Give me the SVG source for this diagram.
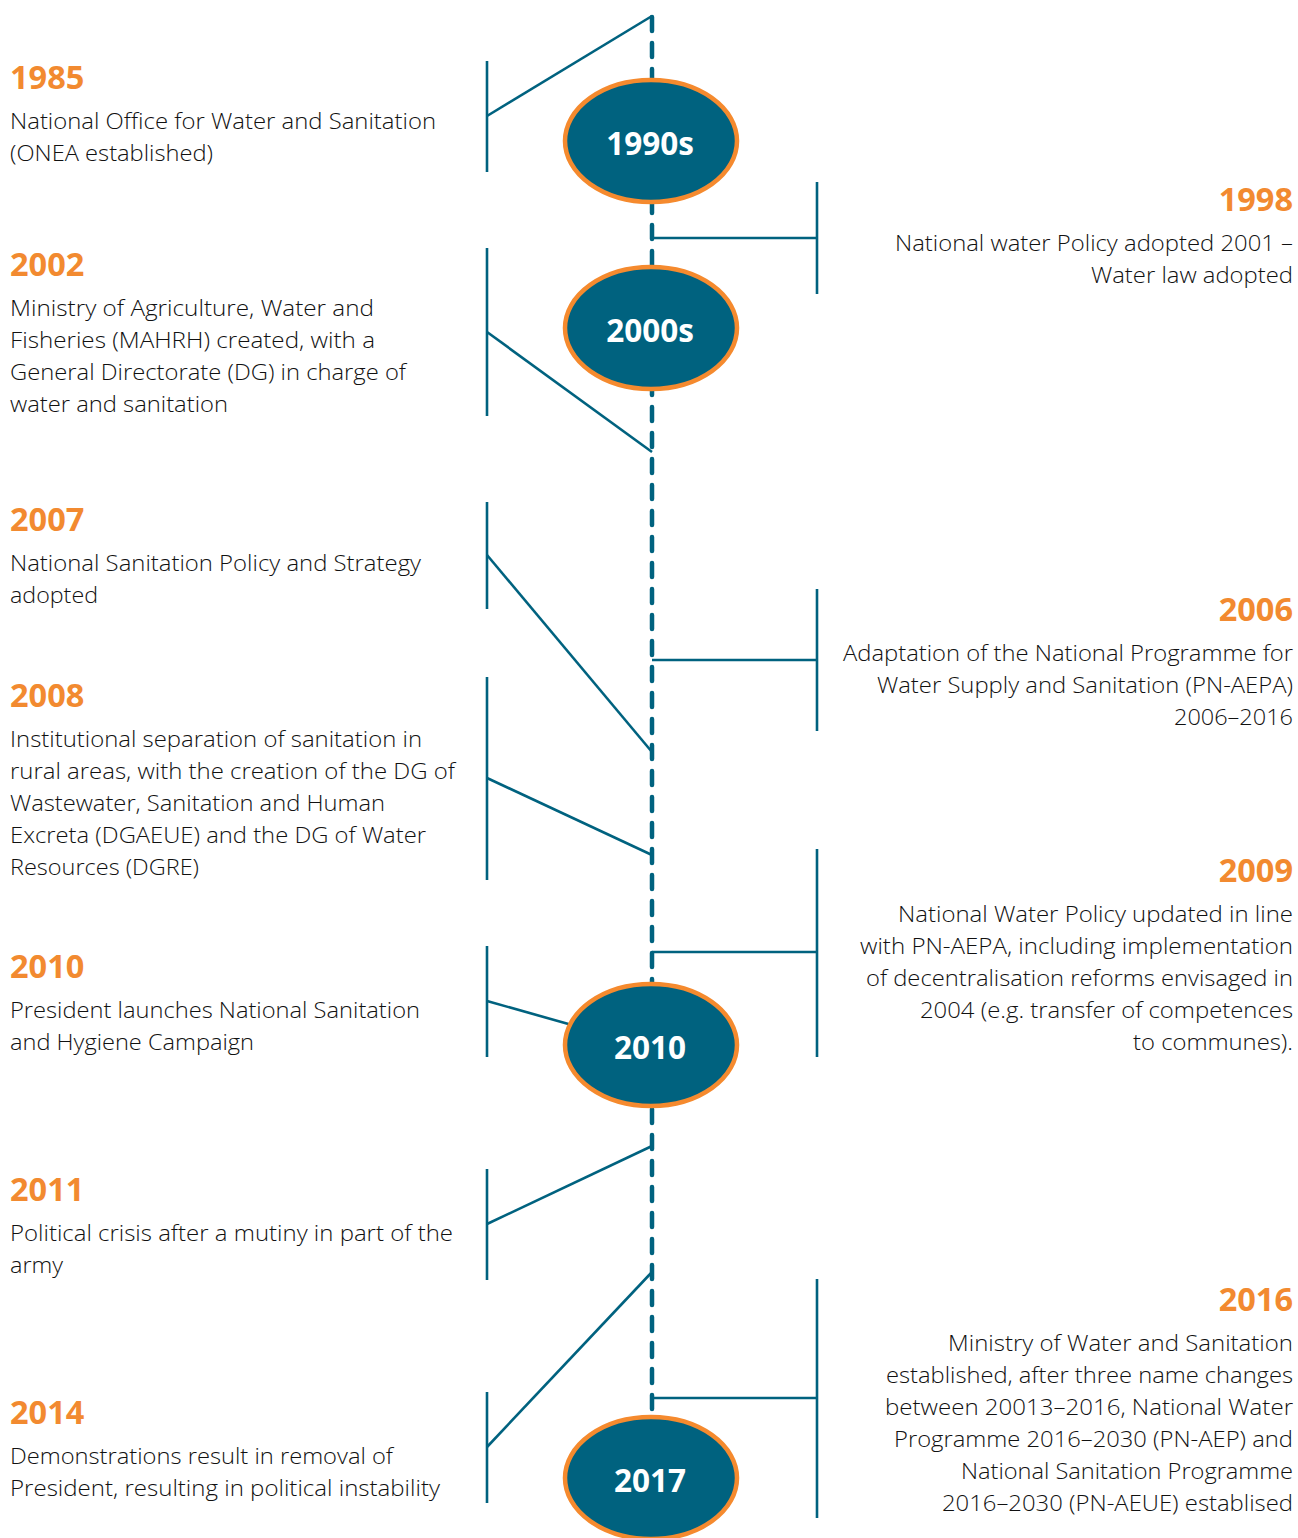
<svg xmlns="http://www.w3.org/2000/svg" width="1298" height="1538" viewBox="0 0 1298 1538">
<style>
.spine{stroke:#00627F;stroke-width:4.5;stroke-dasharray:14 12;stroke-linecap:round;fill:none}
.ln{stroke:#00627F;stroke-width:2.6;fill:none}
.yr{font-family:"Open Sans","Liberation Sans",sans-serif;font-weight:700;font-size:32.5px;fill:#F28A30}
.bd{font-family:"Open Sans","Liberation Sans",sans-serif;font-weight:350;font-size:21.5px;fill:#111111}
.r{text-anchor:end}
.ell{fill:#00627F;stroke:#F58A2E;stroke-width:4.5}
.el{font-family:"Open Sans","Liberation Sans",sans-serif;font-weight:700;font-size:31.5px;fill:#ffffff;text-anchor:middle}
</style>
<rect width="1298" height="1538" fill="#ffffff"/>
<g id="connectors">
<line class="spine" x1="652" y1="17" x2="652" y2="1412"/>
<line class="ln" x1="487" y1="61" x2="487" y2="172"/>
<line class="ln" x1="487" y1="116" x2="652" y2="16"/>
<line class="ln" x1="487" y1="248" x2="487" y2="416"/>
<line class="ln" x1="487" y1="332" x2="652" y2="452"/>
<line class="ln" x1="487" y1="502" x2="487" y2="609"/>
<line class="ln" x1="487" y1="555" x2="652" y2="752"/>
<line class="ln" x1="487" y1="677" x2="487" y2="880"/>
<line class="ln" x1="487" y1="778" x2="652" y2="855"/>
<line class="ln" x1="487" y1="946" x2="487" y2="1057"/>
<line class="ln" x1="487" y1="1001" x2="572" y2="1025"/>
<line class="ln" x1="487" y1="1169" x2="487" y2="1280"/>
<line class="ln" x1="487" y1="1224" x2="652" y2="1146"/>
<line class="ln" x1="487" y1="1392" x2="487" y2="1503"/>
<line class="ln" x1="487" y1="1447" x2="652" y2="1272"/>
<line class="ln" x1="817" y1="182" x2="817" y2="294"/>
<line class="ln" x1="652" y1="238" x2="817" y2="238"/>
<line class="ln" x1="817" y1="589" x2="817" y2="731"/>
<line class="ln" x1="652" y1="660" x2="817" y2="660"/>
<line class="ln" x1="817" y1="849" x2="817" y2="1057"/>
<line class="ln" x1="652" y1="952" x2="817" y2="952"/>
<line class="ln" x1="817" y1="1279" x2="817" y2="1518"/>
<line class="ln" x1="652" y1="1398" x2="817" y2="1398"/>
</g>
<g id="era-1990s"><ellipse class="ell" cx="651" cy="141" rx="86" ry="61"/><text class="el" x="650" y="155">1990s</text></g>
<g id="era-2000s"><ellipse class="ell" cx="651" cy="328" rx="86" ry="61"/><text class="el" x="650" y="342">2000s</text></g>
<g id="era-2010"><ellipse class="ell" cx="651" cy="1045" rx="86" ry="61"/><text class="el" x="650" y="1059">2010</text></g>
<g id="era-2017"><ellipse class="ell" cx="651" cy="1478" rx="86" ry="61"/><text class="el" x="650" y="1492">2017</text></g>

<g id="ev-1985">
<text class="yr" x="10" y="89">1985</text>
<text class="bd" x="10" y="129" textLength="426" lengthAdjust="spacingAndGlyphs">National Office for Water and Sanitation</text>
<text class="bd" x="10" y="161" textLength="203" lengthAdjust="spacingAndGlyphs">(ONEA established)</text>
</g>
<g id="ev-2002">
<text class="yr" x="10" y="276">2002</text>
<text class="bd" x="10" y="316" textLength="364" lengthAdjust="spacingAndGlyphs">Ministry of Agriculture, Water and</text>
<text class="bd" x="10" y="348" textLength="365" lengthAdjust="spacingAndGlyphs">Fisheries (MAHRH) created, with a</text>
<text class="bd" x="10" y="380" textLength="396" lengthAdjust="spacingAndGlyphs">General Directorate (DG) in charge of</text>
<text class="bd" x="10" y="412" textLength="218" lengthAdjust="spacingAndGlyphs">water and sanitation</text>
</g>
<g id="ev-2007">
<text class="yr" x="10" y="531">2007</text>
<text class="bd" x="10" y="571" textLength="411" lengthAdjust="spacingAndGlyphs">National Sanitation Policy and Strategy</text>
<text class="bd" x="10" y="603" textLength="88" lengthAdjust="spacingAndGlyphs">adopted</text>
</g>
<g id="ev-2008">
<text class="yr" x="10" y="707">2008</text>
<text class="bd" x="10" y="747" textLength="412" lengthAdjust="spacingAndGlyphs">Institutional separation of sanitation in</text>
<text class="bd" x="10" y="779" textLength="445" lengthAdjust="spacingAndGlyphs">rural areas, with the creation of the DG of</text>
<text class="bd" x="10" y="811" textLength="375" lengthAdjust="spacingAndGlyphs">Wastewater, Sanitation and Human</text>
<text class="bd" x="10" y="843" textLength="416" lengthAdjust="spacingAndGlyphs">Excreta (DGAEUE) and the DG of Water</text>
<text class="bd" x="10" y="875" textLength="189" lengthAdjust="spacingAndGlyphs">Resources (DGRE)</text>
</g>
<g id="ev-2010">
<text class="yr" x="10" y="978">2010</text>
<text class="bd" x="10" y="1018" textLength="410" lengthAdjust="spacingAndGlyphs">President launches National Sanitation</text>
<text class="bd" x="10" y="1050" textLength="244" lengthAdjust="spacingAndGlyphs">and Hygiene Campaign</text>
</g>
<g id="ev-2011">
<text class="yr" x="10" y="1201">2011</text>
<text class="bd" x="10" y="1241" textLength="443" lengthAdjust="spacingAndGlyphs">Political crisis after a mutiny in part of the</text>
<text class="bd" x="10" y="1273" textLength="53" lengthAdjust="spacingAndGlyphs">army</text>
</g>
<g id="ev-2014">
<text class="yr" x="10" y="1424">2014</text>
<text class="bd" x="10" y="1464" textLength="383" lengthAdjust="spacingAndGlyphs">Demonstrations result in removal of</text>
<text class="bd" x="10" y="1496" textLength="430" lengthAdjust="spacingAndGlyphs">President, resulting in political instability</text>
</g>

<g id="ev-1998">
<text class="yr r" x="1293" y="211">1998</text>
<text class="bd r" x="1293" y="251" textLength="398" lengthAdjust="spacingAndGlyphs">National water Policy adopted 2001 –</text>
<text class="bd r" x="1293" y="283" textLength="202" lengthAdjust="spacingAndGlyphs">Water law adopted</text>
</g>
<g id="ev-2006">
<text class="yr r" x="1293" y="621">2006</text>
<text class="bd r" x="1293" y="661" textLength="450" lengthAdjust="spacingAndGlyphs">Adaptation of the National Programme for</text>
<text class="bd r" x="1293" y="693" textLength="416" lengthAdjust="spacingAndGlyphs">Water Supply and Sanitation (PN-AEPA)</text>
<text class="bd r" x="1293" y="725" textLength="119" lengthAdjust="spacingAndGlyphs">2006–2016</text>
</g>
<g id="ev-2009">
<text class="yr r" x="1293" y="882">2009</text>
<text class="bd r" x="1293" y="922" textLength="395" lengthAdjust="spacingAndGlyphs">National Water Policy updated in line</text>
<text class="bd r" x="1293" y="954" textLength="433" lengthAdjust="spacingAndGlyphs">with PN-AEPA, including implementation</text>
<text class="bd r" x="1293" y="986" textLength="427" lengthAdjust="spacingAndGlyphs">of decentralisation reforms envisaged in</text>
<text class="bd r" x="1293" y="1018" textLength="373" lengthAdjust="spacingAndGlyphs">2004 (e.g. transfer of competences</text>
<text class="bd r" x="1293" y="1050" textLength="160" lengthAdjust="spacingAndGlyphs">to communes).</text>
</g>
<g id="ev-2016">
<text class="yr r" x="1293" y="1311">2016</text>
<text class="bd r" x="1293" y="1351" textLength="345" lengthAdjust="spacingAndGlyphs">Ministry of Water and Sanitation</text>
<text class="bd r" x="1293" y="1383" textLength="407" lengthAdjust="spacingAndGlyphs">established, after three name changes</text>
<text class="bd r" x="1293" y="1415" textLength="408" lengthAdjust="spacingAndGlyphs">between 20013–2016, National Water</text>
<text class="bd r" x="1293" y="1447" textLength="399" lengthAdjust="spacingAndGlyphs">Programme 2016–2030 (PN-AEP) and</text>
<text class="bd r" x="1293" y="1479" textLength="332" lengthAdjust="spacingAndGlyphs">National Sanitation Programme</text>
<text class="bd r" x="1293" y="1511" textLength="351" lengthAdjust="spacingAndGlyphs">2016–2030 (PN-AEUE) establised</text>
</g>
</svg>
